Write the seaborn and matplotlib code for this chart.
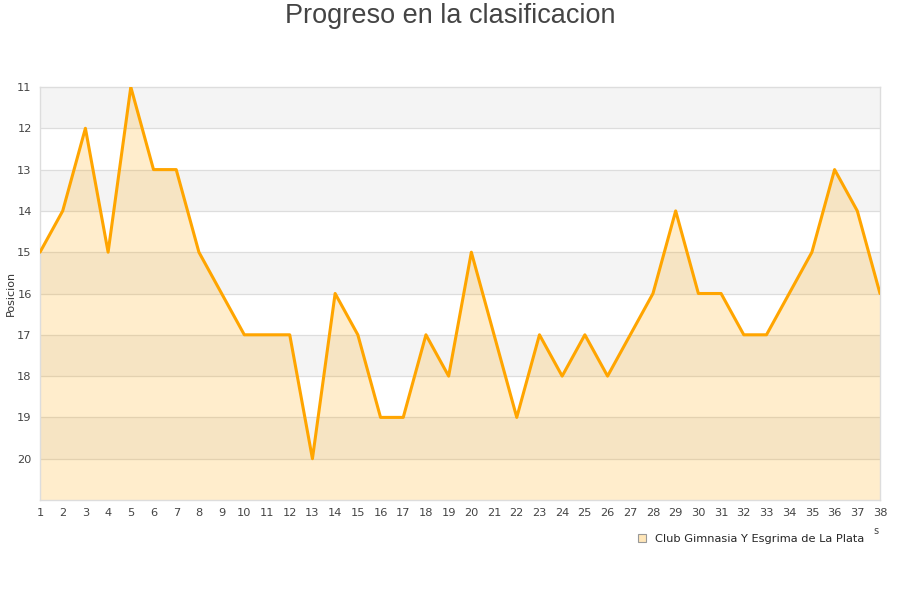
import matplotlib
matplotlib.use("Agg")
import matplotlib.pyplot as plt
import seaborn as sns
import pandas as pd
from matplotlib.patches import Patch

jornadas = list(range(1, 39))
posiciones = [15, 14, 12, 15, 11, 13, 13, 15, 16, 17, 17, 17, 20, 16, 17, 19, 19, 17, 18, 15,
              17, 19, 17, 18, 17, 18, 17, 16, 14, 16, 16, 17, 17, 16, 15, 13, 14, 16]
equipo = "Club Gimnasia Y Esgrima de La Plata"
titulo = "Progreso en la clasificacion"
ylabel = "Posicion"
ytick_vals = list(range(11, 21))

df = pd.DataFrame({"Jornada": jornadas, "Posicion": posiciones})

sns.set_theme(style="white")
plt.rcParams["font.family"] = ["DejaVu Sans"]

fig = plt.figure(figsize=(9, 6), dpi=100)
ax = fig.add_axes([40/900, 1-500/600, 840/900, 413/600])

# alternating bands
for lo in range(11, 21, 2):
    ax.axhspan(lo, lo + 1, color="#f4f4f4", zorder=0, lw=0)
for v in range(12, 21):
    ax.axhline(v, color="#dddddd", lw=0.9, zorder=0.5)

ax.fill_between(df["Jornada"], df["Posicion"], 21, color="#FFA500", alpha=0.2, lw=0, zorder=1)
sns.lineplot(data=df, x="Jornada", y="Posicion", ax=ax, color="#FFA500", lw=2.2, zorder=3)

ax.set_xlim(1, 38)
ax.set_ylim(21, 11)
ax.set_xticks(jornadas)
ax.set_xticklabels([str(j) for j in jornadas])
ax.set_yticks(ytick_vals)
ax.tick_params(axis="both", labelsize=8.2, colors="#444444", length=0, pad=6)
ax.set_xlabel("")
ax.set_ylabel("")
for s in ax.spines.values():
    s.set_color("#dddddd")
    s.set_linewidth(1)
ax.grid(False)

fig.text(11/900, 1-293/600, ylabel, rotation=90, ha="center", va="center",
         fontsize=8, color="#333333")

fig.text(0.5, 1-16/600, titulo, ha="center", va="center", fontsize=19.5,
         color="#444444", family=["Liberation Sans", "DejaVu Sans"])

handle = Patch(facecolor="#ffe6b8", edgecolor="#999999", lw=0.8)
fig.legend([handle], [equipo], loc="center", bbox_to_anchor=(751/900, 1-539/600),
           frameon=False, fontsize=8.2, handlelength=0.7, handleheight=0.7, handletextpad=0.8)

fig.text(876/900, 1-531/600, "s", ha="center", va="center", fontsize=7, color="#444444")

fig.savefig("out.png", dpi=100, facecolor="white")
